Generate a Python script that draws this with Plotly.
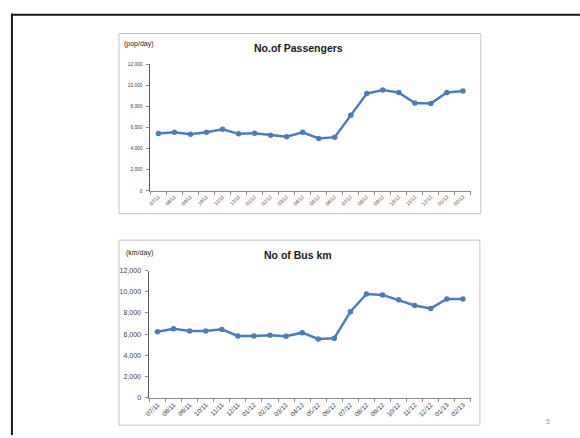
import plotly.graph_objects as go

W, H = 580, 438

months = ["07/11", "08/11", "09/11", "10/11", "11/11", "12/11", "01/12", "02/12",
          "03/12", "04/12", "05/12", "06/12", "07/12", "08/12", "09/12", "10/12",
          "11/12", "12/12", "01/13", "02/13"]
passengers = [5430, 5550, 5360, 5550, 5830, 5400, 5460, 5270, 5120, 5550,
              4960, 5090, 7160, 9210, 9550, 9300, 8310, 8280, 9300, 9460]
bus_km = [6230, 6510, 6290, 6290, 6450, 5830, 5830, 5890, 5800, 6140,
          5550, 5610, 8120, 9800, 9710, 9240, 8710, 8430, 9330, 9330]
y_ticks = [0, 2000, 4000, 6000, 8000, 10000, 12000]

LINE = "#4a7ebb"
FONT = "Liberation Sans, Arial, sans-serif"


def px(x):
    return x / W


def py(y):
    return 1 - y / H


fig = go.Figure()
fig.add_trace(go.Scatter(x=months, y=passengers, mode="lines+markers",
                         line=dict(color=LINE, width=2.5),
                         marker=dict(color=LINE, size=5.5),
                         xaxis="x", yaxis="y", showlegend=False))
fig.add_trace(go.Scatter(x=months, y=bus_km, mode="lines+markers",
                         line=dict(color=LINE, width=2.5),
                         marker=dict(color=LINE, size=5.5),
                         xaxis="x2", yaxis="y2", showlegend=False))

tick_labels = [f"{v:,}" for v in y_ticks]


def xaxis_cfg(anchor, x0, x1, size):
    return dict(domain=[px(x0), px(x1)], anchor=anchor, type="category",
                range=[-0.5, len(months) - 0.5], tickangle=-45,
                showline=True, linecolor="#8c8c8c", linewidth=1,
                ticks="outside", tickson="boundaries", ticklen=3,
                tickcolor="#8c8c8c", showgrid=False, zeroline=False,
                tickfont=dict(family=FONT, size=size, color="#404040"))


def yaxis_cfg(anchor, y_bottom, y_top, size):
    return dict(domain=[py(y_bottom), py(y_top)], anchor=anchor,
                range=[0, 12000], tickvals=y_ticks, ticktext=tick_labels,
                showline=True, linecolor="#5a5a5a", linewidth=1,
                ticks="outside", ticklen=3, tickcolor="#8c8c8c",
                ticklabelstandoff=3,
                showgrid=False, zeroline=False,
                tickfont=dict(family=FONT, size=size, color="#404040"))


fig.update_layout(
    width=W, height=H,
    margin=dict(l=0, r=0, t=0, b=0),
    paper_bgcolor="white", plot_bgcolor="white",
    xaxis=xaxis_cfg("y", 146.7, 470, 5),
    yaxis=yaxis_cfg("x", 190, 61, 4.8),
    xaxis2=xaxis_cfg("y2", 145.7, 470, 6.5),
    yaxis2=yaxis_cfg("x2", 400, 271, 7),
)

shapes = [
    # slide frame (top and left edges)
    dict(type="line", xref="paper", yref="paper", x0=px(6), x1=px(580),
         y0=py(11), y1=py(11), line=dict(color="#1a1a1a", width=2)),
    dict(type="line", xref="paper", yref="paper", x0=px(7), x1=px(7),
         y0=py(10), y1=py(438), line=dict(color="#1a1a1a", width=2)),
    # chart frames
    dict(type="rect", xref="paper", yref="paper", x0=px(115), x1=px(480),
         y0=py(213), y1=py(30), line=dict(color="#c4c4c4", width=1)),
    dict(type="rect", xref="paper", yref="paper", x0=px(115), x1=px(479),
         y0=py(428), y1=py(240), line=dict(color="#c4c4c4", width=1)),
]
fig.update_layout(shapes=shapes)

annotations = [
    dict(text="<b>No.of Passengers</b>", x=px(296), y=py(45), size=10.5),
    dict(text="<b>No of Bus km</b>", x=px(296), y=py(255), size=10.5),
    dict(text="(pop/day)", x=px(135), y=py(41), size=7),
    dict(text="(km/day)", x=px(136), y=py(253), size=7),
]
for a in annotations:
    fig.add_annotation(text=a["text"], x=a["x"], y=a["y"], xref="paper",
                       yref="paper", showarrow=False, xanchor="center",
                       yanchor="middle",
                       font=dict(family=FONT, size=a["size"], color="#1a1a1a"))

fig.add_annotation(text="5", x=px(548), y=py(424), xref="paper", yref="paper",
                   showarrow=False, xanchor="center", yanchor="middle",
                   font=dict(family=FONT, size=7, color="#9a9a9a"))

fig.write_html("out.html")
